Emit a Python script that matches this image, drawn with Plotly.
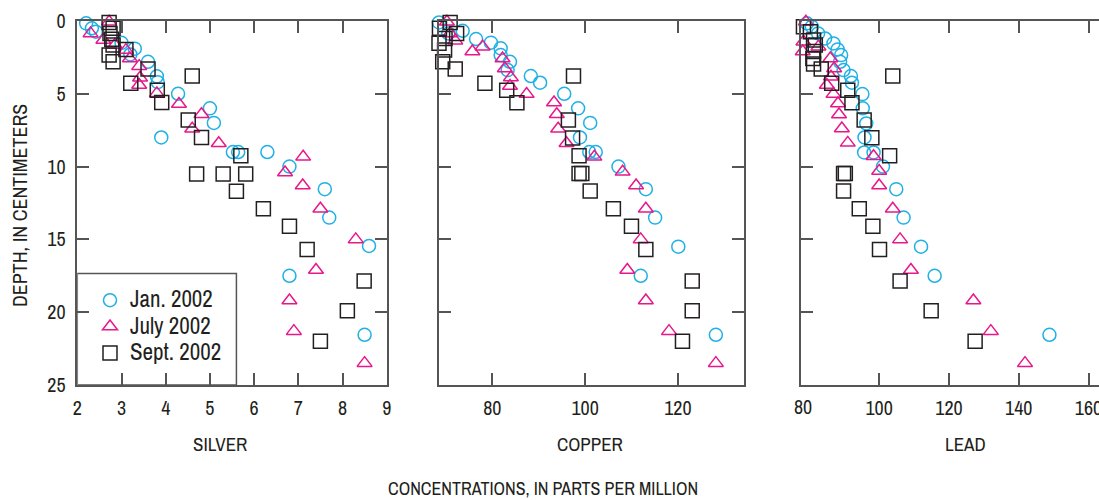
import plotly.graph_objects as go

# ---------------- data ----------------
series_names = ["Jan. 2002", "July 2002", "Sept. 2002"]

silver_jan_x = [2.2, 2.33, 2.42, 3.0, 3.3, 3.2, 3.6, 3.8, 3.82, 4.28, 5.0, 5.09, 3.9, 5.52, 5.64, 6.3, 6.8, 7.6, 7.7, 8.6, 6.8, 8.5]
silver_jan_y = [0.16, 0.5, 0.73, 1.5, 1.9, 2.3, 2.8, 3.8, 4.2, 5.0, 6.0, 7.0, 8.0, 9.0, 9.0, 9.0, 10.0, 11.55, 13.5, 15.45, 17.5, 21.55]
silver_jul_x = [2.72, 2.3, 2.59, 2.85, 3.1, 3.19, 3.4, 3.42, 3.4, 3.8, 4.3, 4.81, 4.6, 5.2, 7.11, 6.7, 7.1, 7.5, 8.3, 7.4, 6.8, 6.9, 8.5]
silver_jul_y = [0.05, 0.85, 1.3, 1.65, 2.0, 2.57, 3.1, 3.9, 4.4, 4.97, 5.7, 6.4, 7.4, 8.4, 9.33, 10.4, 11.3, 12.9, 15.0, 17.1, 19.2, 21.3, 23.5]
silver_sep_x = [2.72, 2.81, 2.74, 2.78, 2.81, 3.1, 2.72, 2.81, 3.6, 3.21, 3.81, 3.91, 4.6, 4.51, 4.81, 5.7, 4.7, 5.3, 5.81, 5.6, 6.21, 6.8, 7.2, 8.49, 8.11, 7.5]
silver_sep_y = [0.1, 0.5, 0.85, 1.26, 1.65, 1.95, 2.34, 2.8, 3.3, 4.28, 4.75, 5.6, 3.78, 6.8, 8.0, 9.26, 10.5, 10.5, 10.5, 11.7, 12.9, 14.1, 15.7, 17.86, 19.9, 22.0]

copper_jan_x = [68.5, 70.5, 73.6, 76.5, 79.7, 81.8, 81.8, 83.8, 83.3, 88.3, 90.3, 95.5, 98.5, 101.1, 98.9, 100.9, 102.3, 107.2, 113.1, 115.1, 120.1, 112.0, 128.2]
copper_jan_y = [0.1, 0.85, 0.67, 1.24, 1.49, 1.88, 2.34, 2.8, 3.37, 3.78, 4.24, 5.0, 6.0, 7.0, 8.0, 9.0, 9.0, 10.0, 11.55, 13.5, 15.5, 17.5, 21.55]
copper_jul_x = [70.2, 70.9, 72.0, 77.9, 75.7, 82.2, 82.7, 84.0, 83.8, 87.4, 93.3, 93.9, 94.2, 96.0, 102.0, 108.1, 111.0, 113.1, 112.0, 109.1, 113.1, 118.1, 128.2]
copper_jul_y = [0.05, 0.85, 1.35, 1.76, 2.1, 2.57, 3.26, 3.88, 4.47, 5.02, 5.6, 6.4, 7.4, 8.4, 9.33, 10.36, 11.3, 12.9, 15.0, 17.1, 19.2, 21.3, 23.5]
copper_sep_x = [70.9, 68.6, 72.3, 69.8, 68.5, 69.7, 69.3, 72.0, 78.4, 83.1, 97.5, 85.3, 96.4, 97.3, 98.7, 98.7, 99.3, 101.1, 106.1, 110.0, 113.1, 123.1, 123.1, 121.0]
copper_sep_y = [0.1, 0.5, 0.85, 1.2, 1.53, 2.0, 2.8, 3.3, 4.28, 4.75, 3.78, 5.62, 6.8, 8.03, 9.26, 10.48, 10.48, 11.67, 12.9, 14.1, 15.7, 17.86, 19.9, 22.0]

lead_jan_x = [79.3, 80.7, 82.5, 84.5, 86.9, 88.1, 89.1, 88.8, 89.8, 91.9, 92.2, 95.2, 95.3, 96.3, 95.8, 95.7, 98.4, 101.1, 104.9, 107.0, 112.0, 115.9, 148.8]
lead_jan_y = [0.16, 0.39, 0.85, 1.2, 1.54, 1.95, 2.34, 2.8, 3.37, 3.78, 4.24, 5.02, 6.0, 7.04, 8.0, 9.03, 9.03, 10.0, 11.55, 13.5, 15.5, 17.5, 21.55]
lead_jul_x = [79.0, 77.0, 78.3, 82.6, 78.1, 86.0, 87.1, 86.2, 85.0, 86.9, 88.2, 88.5, 89.3, 91.0, 98.4, 100.0, 100.0, 103.9, 106.0, 109.1, 127.0, 132.0, 141.8]
lead_jul_y = [0.05, 0.96, 1.42, 1.76, 2.1, 2.57, 3.26, 3.83, 4.4, 5.02, 5.67, 6.42, 7.38, 8.37, 9.29, 10.3, 11.3, 12.9, 15.0, 17.1, 19.2, 21.3, 23.5]
lead_sep_x = [77.4, 78.3, 80.3, 81.2, 81.7, 81.2, 81.0, 81.2, 83.4, 86.4, 91.0, 92.2, 103.9, 95.7, 97.9, 103.0, 89.8, 90.3, 89.8, 94.3, 98.2, 100.1, 106.0, 114.9, 127.5]
lead_sep_y = [0.05, 0.39, 0.73, 1.3, 1.65, 2.1, 2.57, 2.96, 3.3, 4.28, 4.75, 5.62, 3.78, 6.8, 8.02, 9.26, 10.48, 10.48, 11.67, 12.9, 14.1, 15.7, 17.86, 19.9, 22.0]

panel_titles = ["SILVER", "COPPER", "LEAD"]
silver_ticks = [2, 3, 4, 5, 6, 7, 8, 9]
copper_ticks = [80, 100, 120]
lead_ticks = [100, 120, 140, 160]
depth_ticks = [0, 5, 10, 15, 20, 25]

# ---------------- styling ----------------
FONT = "Archivo Narrow, Asap Condensed, Liberation Sans Narrow, DejaVu Sans Condensed, sans-serif"
TXT = "#231f20"
AX = "#555555"
colors = ["#1fb1e6", "#e8178a", "#231f20"]
symbols = ["circle-open", "triangle-up-open", "square-open"]
sizes = [13, 13, 14]

W, H = 1099, 500
def px(x):
    return x / W
def py(y):
    return 1 - y / H

fig = go.Figure()

panels = [
    ("x", "y", [(silver_jan_x, silver_jan_y), (silver_jul_x, silver_jul_y), (silver_sep_x, silver_sep_y)]),
    ("x2", "y2", [(copper_jan_x, copper_jan_y), (copper_jul_x, copper_jul_y), (copper_sep_x, copper_sep_y)]),
    ("x3", "y3", [(lead_jan_x, lead_jan_y), (lead_jul_x, lead_jul_y), (lead_sep_x, lead_sep_y)]),
]
for pi, (xa, ya, sers) in enumerate(panels):
    for si, (xs, ys) in enumerate(sers):
        fig.add_trace(go.Scatter(
            x=xs, y=ys, mode="markers", xaxis=xa, yaxis=ya,
            name="<span style='font-size:23px'>" + series_names[si] + "</span>",
            showlegend=(pi == 0),
            cliponaxis=False,
            marker=dict(symbol=symbols[si], size=sizes[si], color=colors[si],
                        line=dict(width=1.5, color=colors[si])),
        ))

common = dict(showgrid=False, zeroline=False, showline=True, linecolor=AX, linewidth=1.5,
              ticks="inside", ticklen=12, tickwidth=1.5, tickcolor=AX, automargin=False,
              ticklabeloverflow="allow",
              tickfont=dict(family=FONT, size=20, color=TXT))
ydom = [py(385), py(21)]

fig.update_layout(
    width=W, height=H, margin=dict(l=0, r=0, t=0, b=0, autoexpand=False),
    paper_bgcolor="white", plot_bgcolor="white",
    font=dict(family=FONT, color=TXT),
    xaxis=dict(common, domain=[px(77.3), px(386.7)], range=[2, 9], tickvals=silver_ticks,
               mirror="ticks", anchor="y", ticklabelstandoff=4),
    yaxis=dict(common, domain=ydom, range=[25, 0], tickvals=depth_ticks, mirror="ticks",
               anchor="x", ticklabelstandoff=6),
    xaxis2=dict(common, domain=[px(439), px(743.7)], range=[68.5, 134.2], tickvals=copper_ticks,
                mirror="ticks", anchor="y2", ticklabelstandoff=4),
    yaxis2=dict(common, domain=ydom, range=[25, 0], tickvals=depth_ticks, mirror="ticks",
                anchor="x2", showticklabels=False),
    xaxis3=dict(common, domain=[px(801), 1.0], range=[77.6, 163.0], tickvals=lead_ticks,
                mirror="ticks", anchor="y3", ticklabelstandoff=4),
    yaxis3=dict(common, domain=ydom, range=[25, 0], tickvals=depth_ticks, mirror=False,
                anchor="x3", showticklabels=False),
    legend=dict(x=px(90), y=py(282), xanchor="left", yanchor="top",
                bgcolor="rgba(0,0,0,0)", borderwidth=0,
                font=dict(family=FONT, size=18, color=TXT), tracegroupgap=0),
    showlegend=True,
)

# legend box
fig.add_shape(type="rect", xref="x", yref="y", x0=2, x1=5.6, y0=17.35, y1=25,
              line=dict(color=AX, width=1.5), fillcolor="rgba(0,0,0,0)", layer="above")

# annotations: panel titles, shared titles, lead "80" label
ann_font = dict(family=FONT, size=19, color=TXT)
for title, cx in zip(panel_titles, [220, 590, 965]):
    fig.add_annotation(text=title, x=px(cx), y=py(444), xref="paper", yref="paper",
                       showarrow=False, font=ann_font, xanchor="center", yanchor="middle")
fig.add_annotation(text="CONCENTRATIONS, IN PARTS PER MILLION", x=px(543), y=py(488),
                   xref="paper", yref="paper", showarrow=False,
                   font=dict(family=FONT, size=18, color=TXT),
                   xanchor="center", yanchor="middle")
fig.add_annotation(text="DEPTH, IN CENTIMETERS", x=px(20), y=py(206), xref="paper", yref="paper",
                   showarrow=False, font=dict(family=FONT, size=20, color=TXT),
                   textangle=-90, xanchor="center", yanchor="middle")
fig.add_annotation(text="80", x=px(803), y=py(406), xref="paper", yref="paper",
                   showarrow=False, font=dict(family=FONT, size=20, color=TXT),
                   xanchor="center", yanchor="middle")

fig.write_html("out.html", config={"displayModeBar": False},
               post_script="document.body.style.margin='0px';document.body.style.padding='0px';")
